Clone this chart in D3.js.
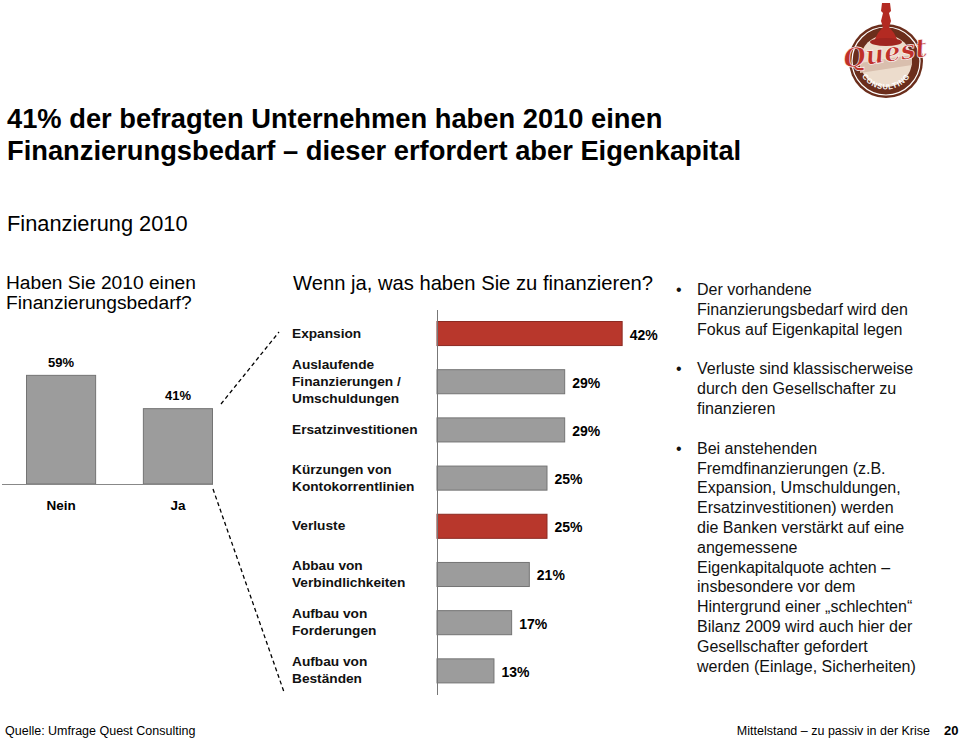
<!DOCTYPE html>
<html><head><meta charset="utf-8">
<script src="https://cdn.jsdelivr.net/npm/d3@7"></script>
<style>
html,body{margin:0;padding:0;background:#fff;}
svg{display:block;font-family:"Liberation Sans",Arial,sans-serif;}
</style></head>
<body>
<svg id="chart" width="960" height="738"></svg>
<script>
// ---- data ----
const titleLines = ["41% der befragten Unternehmen haben 2010 einen", "Finanzierungsbedarf – dieser erfordert aber Eigenkapital"];
const subtitle = "Finanzierung 2010";
const leftQuestion = ["Haben Sie 2010 einen", "Finanzierungsbedarf?"];
const leftCategories = ["Nein", "Ja"];
const leftValues = [59, 41];
const rightQuestion = "Wenn ja, was haben Sie zu finanzieren?";
const rightCategories = [
  ["Expansion"],
  ["Auslaufende", "Finanzierungen /", "Umschuldungen"],
  ["Ersatzinvestitionen"],
  ["Kürzungen von", "Kontokorrentlinien"],
  ["Verluste"],
  ["Abbau von", "Verbindlichkeiten"],
  ["Aufbau von", "Forderungen"],
  ["Aufbau von", "Beständen"]
];
const rightValues = [42, 29, 29, 25, 25, 21, 17, 13];
const rightHighlight = [true, false, false, false, true, false, false, false];
const bullets = [
  ["Der vorhandene", "Finanzierungsbedarf wird den", "Fokus auf Eigenkapital legen"],
  ["Verluste sind klassischerweise", "durch den Gesellschafter zu", "finanzieren"],
  ["Bei anstehenden", "Fremdfinanzierungen (z.B.", "Expansion, Umschuldungen,", "Ersatzinvestitionen) werden", "die Banken verstärkt auf eine", "angemessene", "Eigenkapitalquote achten –", "insbesondere vor dem", "Hintergrund einer „schlechten“", "Bilanz 2009 wird auch hier der", "Gesellschafter gefordert", "werden (Einlage, Sicherheiten)"]
];
const footerLeft = "Quelle: Umfrage Quest Consulting";
const footerRight = "Mittelstand – zu passiv in der Krise";
const pageNumber = "20";

// ---- drawing ----
const svg = d3.select("#chart");
const RED = "#b8372c", RED_EDGE = "#8c2a22", GRAY = "#9c9c9c", GRAY_EDGE = "#747474";

// title
svg.append("g").selectAll("text").data(titleLines).join("text")
  .attr("x", 7).attr("y", (d, i) => 128 + i * 32)
  .attr("font-size", 27.3).attr("font-weight", "bold").attr("fill", "#000").text(d => d);
svg.append("text").attr("x", 7).attr("y", 231).attr("font-size", 21.8).text(subtitle);

// left question
svg.append("g").selectAll("text").data(leftQuestion).join("text")
  .attr("x", 6).attr("y", (d, i) => 289 + i * 20)
  .attr("font-size", 19.2).text(d => d);

// left chart
const xL = d3.scaleBand().domain(leftCategories).range([26, 213]).paddingInner(0.4).paddingOuter(0);
const yL = d3.scaleLinear().domain([0, 100]).range([484, 299]);
const gL = svg.append("g");
gL.selectAll("rect").data(leftValues).join("rect")
  .attr("x", (d, i) => xL(leftCategories[i]) + 0.5)
  .attr("y", d => yL(d) + 0.5)
  .attr("width", xL.bandwidth() - 1)
  .attr("height", d => yL(0) - yL(d) - 0.5)
  .attr("fill", GRAY).attr("stroke", GRAY_EDGE).attr("stroke-width", 1);
gL.append("line").attr("x1", 2).attr("x2", 213).attr("y1", yL(0) + 0.5).attr("y2", yL(0) + 0.5)
  .attr("stroke", "#888").attr("stroke-width", 1);
gL.selectAll("text.val").data(leftValues).join("text").attr("class", "val")
  .attr("x", (d, i) => xL(leftCategories[i]) + xL.bandwidth() / 2)
  .attr("y", d => yL(d) - 8)
  .attr("text-anchor", "middle").attr("font-size", 13).attr("font-weight", "bold")
  .text(d => d + "%");
gL.selectAll("text.cat").data(leftCategories).join("text").attr("class", "cat")
  .attr("x", d => xL(d) + xL.bandwidth() / 2).attr("y", 510)
  .attr("text-anchor", "middle").attr("font-size", 13.5).attr("font-weight", "bold")
  .text(d => d);

// dashed connector lines
svg.append("line").attr("x1", 221).attr("y1", 404).attr("x2", 279).attr("y2", 332)
  .attr("stroke", "#000").attr("stroke-width", 1.3).attr("stroke-dasharray", "4,3");
svg.append("line").attr("x1", 213).attr("y1", 489).attr("x2", 284).attr("y2", 692)
  .attr("stroke", "#000").attr("stroke-width", 1.3).attr("stroke-dasharray", "4,3");

// right question
svg.append("text").attr("x", 293).attr("y", 290).attr("font-size", 20.2).text(rightQuestion);

// right chart
const idx = d3.range(rightValues.length);
const yR = d3.scaleBand().domain(idx).range([321, 683.4]).paddingInner(0.48).paddingOuter(0);
const xR = d3.scaleLinear().domain([0, 100]).range([437, 879]);
const gR = svg.append("g");
gR.selectAll("rect").data(rightValues).join("rect")
  .attr("x", xR(0))
  .attr("y", (d, i) => yR(i) + 0.5)
  .attr("width", d => xR(d) - xR(0) - 0.5)
  .attr("height", yR.bandwidth() - 1)
  .attr("fill", (d, i) => rightHighlight[i] ? RED : GRAY)
  .attr("stroke", (d, i) => rightHighlight[i] ? RED_EDGE : GRAY_EDGE).attr("stroke-width", 1);
gR.append("line").attr("x1", xR(0) + 0.5).attr("x2", xR(0) + 0.5).attr("y1", 310).attr("y2", 695)
  .attr("stroke", "#777").attr("stroke-width", 1);
gR.selectAll("text.val").data(rightValues).join("text").attr("class", "val")
  .attr("x", d => xR(d) + 7)
  .attr("y", (d, i) => yR(i) + yR.bandwidth() / 2 + 6)
  .attr("font-size", 14).attr("font-weight", "bold").text(d => d + "%");
const catG = gR.selectAll("text.cat").data(rightCategories).join("text").attr("class", "cat")
  .attr("font-size", 13.7).attr("font-weight", "bold").attr("fill", "#111");
catG.each(function (lines, i) {
  const cy = yR(i) + yR.bandwidth() / 2 - 1;
  const top = cy - (lines.length - 1) * 17 / 2;
  d3.select(this).selectAll("tspan").data(lines).join("tspan")
    .attr("x", 292).attr("y", (d, j) => top + j * 17 + 5).text(d => d);
});

// bullets
let by = 295;
const gB = svg.append("g").attr("font-size", 16).attr("fill", "#111");
bullets.forEach((lines, k) => {
  gB.append("text").attr("x", 676).attr("y", by).text("•");
  lines.forEach((l, j) => {
    gB.append("text").attr("x", 697).attr("y", by + j * 19.8).text(l);
  });
  by += lines.length * 19.8 + 20;
});

// footer
svg.append("text").attr("x", 5).attr("y", 735).attr("font-size", 12.5)
  .attr("font-family", "'Liberation Sans Narrow','Arial Narrow',sans-serif").text(footerLeft);
svg.append("text").attr("x", 930).attr("y", 735).attr("text-anchor", "end").attr("font-size", 12.5)
  .attr("font-family", "'Liberation Sans Narrow','Arial Narrow',sans-serif").text(footerRight);
svg.append("text").attr("x", 944).attr("y", 735).attr("font-size", 13).attr("font-weight", "bold").text(pageNumber);

// logo
const lg = svg.append("g").attr("transform", "translate(886,61)");
lg.append("circle").attr("r", 37).attr("fill", "#6b2e1c");
lg.append("circle").attr("r", 34).attr("fill", "none").attr("stroke", "#fff").attr("stroke-width", 1.2);
lg.append("circle").attr("r", 26).attr("fill", "#ecdccc");
lg.append("path").attr("d", "M-26,2 L26,-6 L26,4 L-26,12 Z").attr("fill", "#d9bfae");
// chess piece
lg.append("path").attr("d", "M-4,-58 L4,-58 L5,-50 L3,-48 L5,-40 L3,-34 L8,-28 L12,-20 L-12,-20 L-8,-28 L-3,-34 L-5,-40 L-3,-48 L-5,-50 Z")
  .attr("fill", "#b32a22");
lg.append("ellipse").attr("cx", 0).attr("cy", -19).attr("rx", 16).attr("ry", 4).attr("fill", "#a02520");
lg.append("text").attr("x", 0).attr("y", 1).attr("text-anchor", "middle")
  .attr("font-family", "'DejaVu Serif',serif").attr("font-style", "italic").attr("font-weight", "bold")
  .attr("font-size", 26).attr("fill", "#c0302a").attr("stroke", "#fff").attr("stroke-width", 0.6)
  .attr("transform", "rotate(-8)").text("Quest");
const arc = lg.append("defs").append("path").attr("id", "arcC").attr("d", "M-27,10 A29,29 0 0 0 27,10");
lg.append("text").attr("font-size", 7.5).attr("font-weight", "bold").attr("fill", "#fff").attr("letter-spacing", 0.8)
  .append("textPath").attr("href", "#arcC").attr("startOffset", "50%").attr("text-anchor", "middle").text("CONSULTING");
</script>
</body></html>
